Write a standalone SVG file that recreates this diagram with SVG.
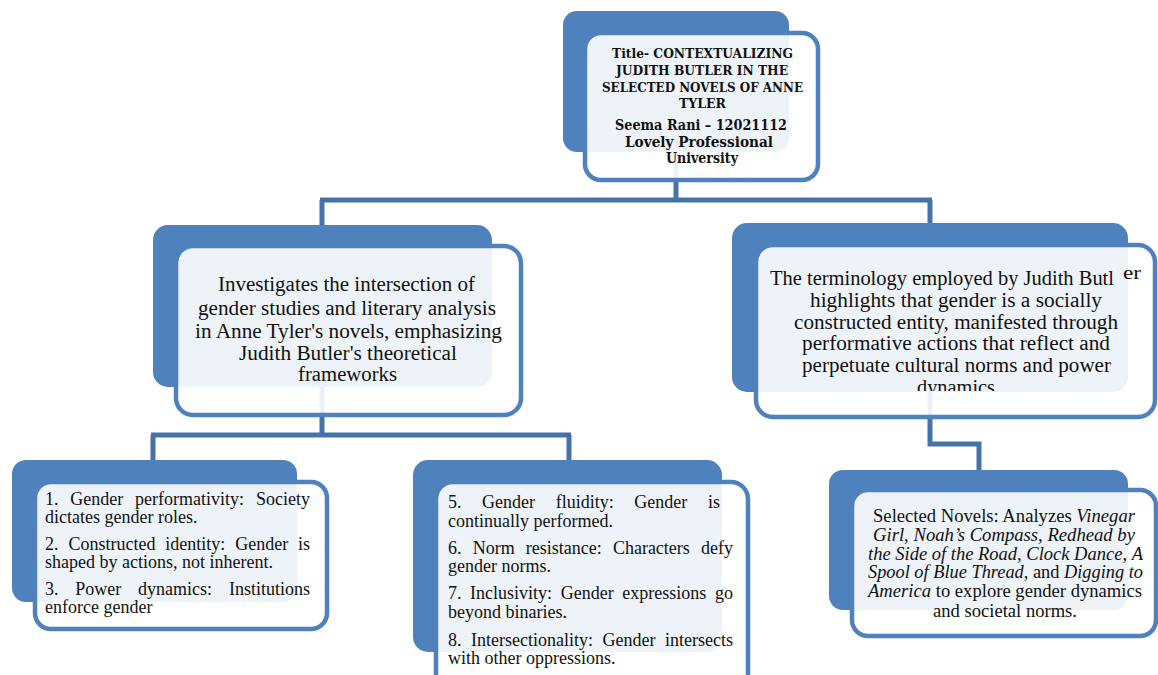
<svg xmlns="http://www.w3.org/2000/svg" width="1158" height="675" viewBox="0 0 1158 675">
<style>
.back{fill:#4F81BD;}
.front{fill:#FFFFFF;fill-opacity:0.9;stroke:#4F81BD;stroke-width:4.5;}
.conn{fill:none;stroke:#4672A8;stroke-width:5;}
.t{font-family:"Liberation Serif","Times New Roman",serif;fill:#111;}
.m{font-size:20.5px;}
.s{font-size:18px;}
.b{font-family:"DejaVu Serif","Liberation Serif",serif;font-weight:bold;fill:#111;}
.i{font-style:italic;}
</style>
<defs>
<clipPath id="clipR"><rect x="730" y="220" width="428" height="171"/></clipPath>
</defs>
<rect width="1158" height="675" fill="#FFFFFF"/>
<g id="connectors">
<path class="conn" d="M676 100 V200 M320 200 H932 M322 200 V228 M930 200 V226"/>
<path class="conn" d="M322 380 V435 M151 435 H571 M153 435 V462 M569 435 V462"/>
<path class="conn" d="M930 385 V444 H979 V472"/>
</g>
<g id="node-title">
<rect class="back" x="563" y="11" width="226" height="141" rx="14"/>
<rect class="front" x="585" y="33" width="233" height="147" rx="16"/>
<text class="b" font-size="13" x="612" y="58" textLength="181" lengthAdjust="spacingAndGlyphs">Title- CONTEXTUALIZING</text>
<text class="b" font-size="13" x="616" y="75" textLength="172" lengthAdjust="spacingAndGlyphs">JUDITH BUTLER IN THE</text>
<text class="b" font-size="13" x="602" y="92" textLength="201" lengthAdjust="spacingAndGlyphs">SELECTED NOVELS OF ANNE</text>
<text class="b" font-size="13" x="679" y="108" textLength="47" lengthAdjust="spacingAndGlyphs">TYLER</text>
<text class="b" font-size="14" x="615" y="130" textLength="172" lengthAdjust="spacingAndGlyphs">Seema Rani – 12021112</text>
<text class="b" font-size="14" x="625" y="147" textLength="148" lengthAdjust="spacingAndGlyphs">Lovely Professional</text>
<text class="b" font-size="14" x="666" y="163" textLength="72" lengthAdjust="spacingAndGlyphs">University</text>
</g>
<g id="node-intersection">
<rect class="back" x="153" y="225" width="339" height="162" rx="15"/>
<rect class="front" x="176" y="246" width="345" height="169" rx="17"/>
<text class="t m" x="218" y="291" textLength="257" lengthAdjust="spacingAndGlyphs">Investigates the intersection of</text>
<text class="t m" x="198" y="315" textLength="298" lengthAdjust="spacingAndGlyphs">gender studies and literary analysis</text>
<text class="t m" x="195" y="338" textLength="307" lengthAdjust="spacingAndGlyphs">in Anne Tyler's novels, emphasizing</text>
<text class="t m" x="239" y="360" textLength="218" lengthAdjust="spacingAndGlyphs">Judith Butler's theoretical</text>
<text class="t m" x="298" y="381" textLength="99" lengthAdjust="spacingAndGlyphs">frameworks</text>
</g>
<g id="node-terminology">
<rect class="back" x="732" y="223" width="396" height="169" rx="15"/>
<rect class="front" x="756" y="245" width="399" height="172" rx="17"/>
<g clip-path="url(#clipR)">
<text class="t m" x="770" y="285" textLength="344" lengthAdjust="spacingAndGlyphs">The terminology employed by Judith Butl</text>
<text class="t" font-size="19" x="1123" y="279" textLength="18" lengthAdjust="spacingAndGlyphs">er</text>
<text class="t m" x="810" y="307" textLength="292" lengthAdjust="spacingAndGlyphs">highlights that gender is a socially</text>
<text class="t m" x="794" y="329" textLength="324" lengthAdjust="spacingAndGlyphs">constructed entity, manifested through</text>
<text class="t m" x="802" y="350" textLength="308" lengthAdjust="spacingAndGlyphs">performative actions that reflect and</text>
<text class="t m" x="802" y="372" textLength="309" lengthAdjust="spacingAndGlyphs">perpetuate cultural norms and power</text>
<text class="t m" x="917" y="394" textLength="78" lengthAdjust="spacingAndGlyphs">dynamics</text>
</g>
</g>
<g id="node-points-1-3">
<rect class="back" x="12" y="460" width="285" height="142" rx="14"/>
<rect class="front" x="35" y="482" width="292" height="147" rx="16"/>
<text class="t s" y="505"><tspan x="45">1.</tspan><tspan x="70.3">Gender</tspan><tspan x="135.1">performativity:</tspan><tspan x="256">Society</tspan></text>
<text class="t s" x="45" y="523">dictates gender roles.</text>
<text class="t s" y="550"><tspan x="45">2.</tspan><tspan x="68.4">Constructed</tspan><tspan x="165.3">identity:</tspan><tspan x="235.2">Gender</tspan><tspan x="298.1">is</tspan></text>
<text class="t s" x="45" y="568">shaped by actions, not inherent.</text>
<text class="t s" y="595"><tspan x="45">3.</tspan><tspan x="75.3">Power</tspan><tspan x="138.1">dynamics:</tspan><tspan x="228.9">Institutions</tspan></text>
<text class="t s" x="45" y="613">enforce gender</text>
</g>
<g id="node-points-5-8">
<rect class="back" x="413" y="460" width="309" height="192" rx="15"/>
<rect class="front" x="436" y="482" width="312" height="210" rx="17"/>
<text class="t s" y="508"><tspan x="448">5.</tspan><tspan x="482.1">Gender</tspan><tspan x="555.7">fluidity:</tspan><tspan x="634.3">Gender</tspan><tspan x="707.9">is</tspan></text>
<text class="t s" x="448" y="527">continually performed.</text>
<text class="t s" y="554"><tspan x="448">6.</tspan><tspan x="472.7">Norm</tspan><tspan x="525.8">resistance:</tspan><tspan x="612.9">Characters</tspan><tspan x="701">defy</tspan></text>
<text class="t s" x="448" y="572">gender norms.</text>
<text class="t s" y="599"><tspan x="448">7.</tspan><tspan x="470.1">Inclusivity:</tspan><tspan x="560.7">Gender</tspan><tspan x="622.3">expressions</tspan><tspan x="714.9">go</tspan></text>
<text class="t s" x="448" y="618">beyond binaries.</text>
<text class="t s" y="646"><tspan x="448">8.</tspan><tspan x="471">Intersectionality:</tspan><tspan x="602.5">Gender</tspan><tspan x="665">intersects</tspan></text>
<text class="t s" x="448" y="664">with other oppressions.</text>
</g>
<g id="node-novels">
<rect class="back" x="829" y="470" width="299" height="140" rx="14"/>
<rect class="front" x="852" y="490" width="304" height="146" rx="16"/>
<text class="t s" x="873" y="522" textLength="262" lengthAdjust="spacingAndGlyphs">Selected Novels: Analyzes <tspan class="i">Vinegar</tspan></text>
<text class="t s" x="873" y="541" textLength="262" lengthAdjust="spacingAndGlyphs"><tspan class="i">Girl</tspan>, <tspan class="i">Noah’s Compass</tspan>, <tspan class="i">Redhead by</tspan></text>
<text class="t s" x="868" y="560" textLength="275" lengthAdjust="spacingAndGlyphs"><tspan class="i">the Side of the Road</tspan>, <tspan class="i">Clock Dance</tspan>, <tspan class="i">A</tspan></text>
<text class="t s" x="868" y="578" textLength="275" lengthAdjust="spacingAndGlyphs"><tspan class="i">Spool of Blue Thread</tspan>, and <tspan class="i">Digging to</tspan></text>
<text class="t s" x="868" y="597" textLength="274" lengthAdjust="spacingAndGlyphs"><tspan class="i">America</tspan> to explore gender dynamics</text>
<text class="t s" x="933" y="617" textLength="144" lengthAdjust="spacingAndGlyphs">and societal norms.</text>
</g>
</svg>
